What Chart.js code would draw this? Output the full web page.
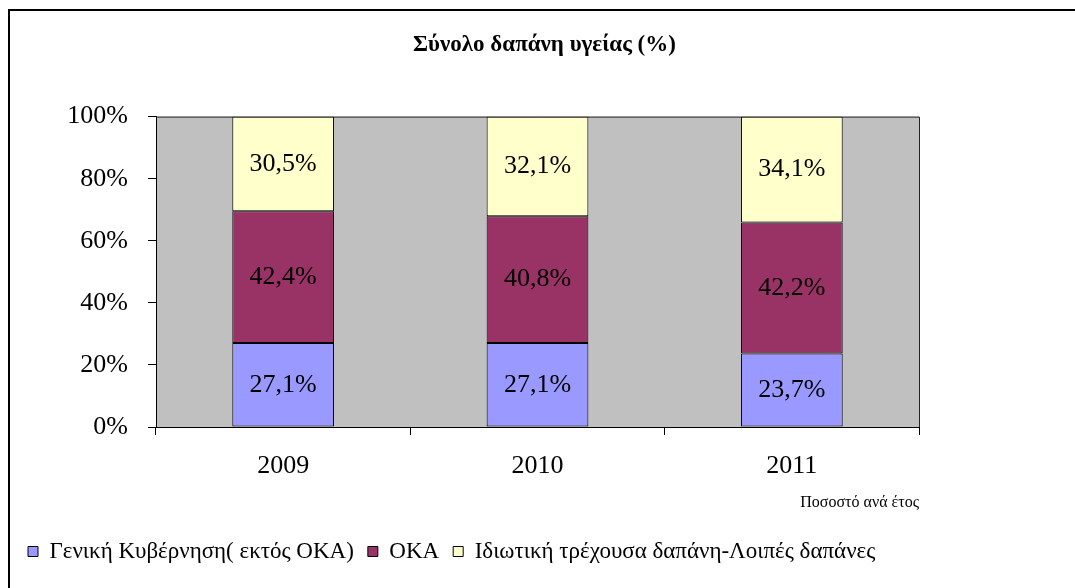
<!DOCTYPE html>
<html>
<head>
<meta charset="utf-8">
<script src="https://cdn.jsdelivr.net/npm/chart.js@4"></script>
<style>
  body { margin: 0; background: #fff; }
  canvas { display: block; }
</style>
</head>
<body>
<canvas id="chart" width="1075" height="588"></canvas>
<script>
const years = ["2009", "2010", "2011"];
const genikiKyvernisi = [27.1, 27.1, 23.7];
const oka = [42.4, 40.8, 42.2];
const idiotiki = [30.5, 32.1, 34.1];
const yTicks = [0, 20, 40, 60, 80, 100];

const serif = "'Liberation Serif', 'Times New Roman', serif";
Chart.defaults.font.family = serif;
Chart.defaults.color = "#000";

// gray plot area + frame
const plotBg = {
  id: "plotBg",
  beforeDraw(chart) {
    const { ctx, chartArea: a } = chart;
    ctx.save();
    ctx.fillStyle = "#C0C0C0";
    ctx.fillRect(a.left, a.top, a.right - a.left, a.bottom - a.top);
    ctx.restore();
  },
  afterDraw(chart) {
    const { ctx, chartArea: a } = chart;
    ctx.save();
    ctx.strokeStyle = "#222";
    ctx.lineWidth = 1;
    ctx.beginPath();
    ctx.moveTo(a.left, a.top + 0.5);
    ctx.lineTo(a.right + 0.5, a.top + 0.5);
    ctx.lineTo(a.right + 0.5, a.bottom);
    ctx.stroke();
    // outer frame, only top and left edges show
    ctx.strokeStyle = "#000";
    ctx.lineWidth = 2;
    ctx.beginPath();
    ctx.moveTo(9, 588);
    ctx.lineTo(9, 10);
    ctx.lineTo(1075, 10);
    ctx.stroke();
    ctx.restore();
  }
};

// value labels in the middle of each segment
const segLabels = {
  id: "segLabels",
  afterDatasetsDraw(chart) {
    const { ctx } = chart;
    ctx.save();
    ctx.font = "26px " + serif;
    ctx.fillStyle = "#000";
    ctx.textAlign = "center";
    ctx.textBaseline = "middle";
    chart.data.datasets.forEach((ds, i) => {
      chart.getDatasetMeta(i).data.forEach((bar, j) => {
        const txt = ds.data[j].toFixed(1).replace(".", ",") + "%";
        ctx.fillText(txt, bar.x, (bar.y + bar.base) / 2);
      });
    });
    ctx.restore();
  }
};

new Chart(document.getElementById("chart"), {
  type: "bar",
  data: {
    labels: years,
    datasets: [
      { label: "Γενική Κυβέρνηση( εκτός ΟΚΑ)", data: genikiKyvernisi, backgroundColor: "#9999FF" },
      { label: "ΟΚΑ", data: oka, backgroundColor: "#993366" },
      { label: "Ιδιωτική τρέχουσα δαπάνη-Λοιπές δαπάνες", data: idiotiki, backgroundColor: "#FFFFCC" }
    ].map(d => Object.assign(d, {
      borderColor: "#000",
      borderWidth: 1,
      borderSkipped: false,
      categoryPercentage: 1,
      barPercentage: 0.4
    }))
  },
  options: {
    responsive: false,
    devicePixelRatio: 1,
    animation: false,
    layout: { padding: { left: 14, right: 0, top: 10, bottom: 15 } },
    plugins: {
      title: {
        display: true,
        text: "Σύνολο δαπάνη υγείας (%)",
        color: "#000",
        font: { family: serif, size: 23, weight: "bold" },
        padding: { top: 21, bottom: 58 }
      },
      legend: {
        position: "bottom",
        align: "start",
        labels: {
          color: "#000",
          font: { family: serif, size: 23 },
          boxWidth: 10,
          boxHeight: 10,
          padding: 14
        }
      },
      tooltip: { enabled: false }
    },
    scales: {
      x: {
        stacked: true,
        grid: { drawOnChartArea: false, tickLength: 8, color: "#000" },
        border: { display: true, color: "#000", width: 1 },
        ticks: { color: "#000", font: { family: serif, size: 26 }, padding: 16 },
        title: {
          display: true,
          text: "Ποσοστό ανά έτος",
          align: "end",
          color: "#000",
          font: { family: serif, size: 16 },
          padding: { top: 0, bottom: 14 }
        },
        afterFit(s) { s.height = 99; }
      },
      y: {
        stacked: true,
        min: 0,
        max: 100,
        grid: { drawOnChartArea: false, tickLength: 8, color: "#000" },
        border: { display: true, color: "#000", width: 1 },
        afterBuildTicks(s) { s.ticks = yTicks.map(v => ({ value: v })); },
        ticks: {
          color: "#000",
          font: { family: serif, size: 26 },
          padding: 20,
          callback: v => v + "%"
        },
        afterFit(s) { s.width = 142; }
      },
      spacer: {
        position: "right",
        display: true,
        grid: { display: false },
        border: { display: false },
        ticks: { display: false },
        afterFit(s) { s.width = 156; }
      }
    }
  },
  plugins: [plotBg, segLabels]
});
</script>
</body>
</html>
